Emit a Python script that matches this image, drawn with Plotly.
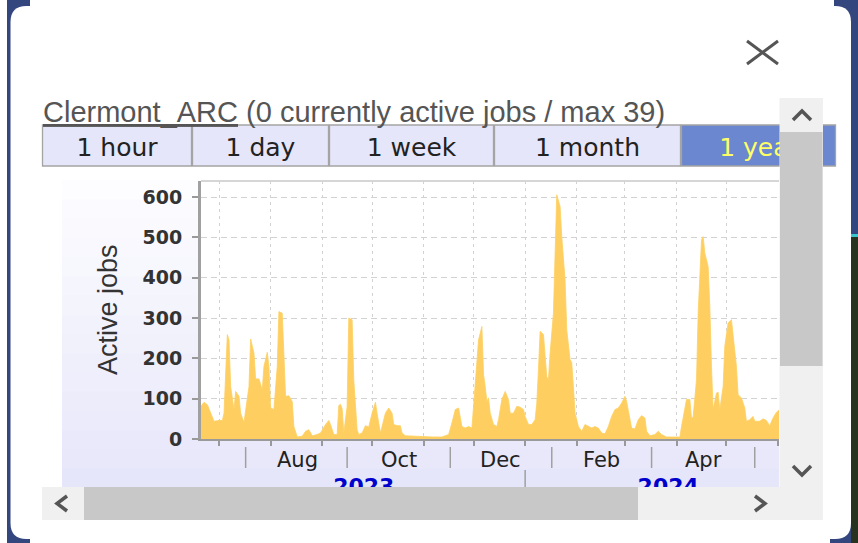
import plotly.graph_objects as go

W, H = 858, 543

# ---------------- data ----------------
dates = [
    "2023-06-20", "2023-06-22", "2023-06-24", "2023-06-26", "2023-06-28", "2023-07-01", "2023-07-03",
    "2023-07-04", "2023-07-05", "2023-07-06", "2023-07-07", "2023-07-08", "2023-07-10", "2023-07-11",
    "2023-07-13", "2023-07-14", "2023-07-16", "2023-07-17", "2023-07-19", "2023-07-20", "2023-07-22",
    "2023-07-23", "2023-07-25", "2023-07-27", "2023-07-28", "2023-07-30", "2023-07-31",
    "2023-08-01", "2023-08-03", "2023-08-05", "2023-08-06", "2023-08-08", "2023-08-09", "2023-08-10",
    "2023-08-12", "2023-08-14", "2023-08-15", "2023-08-17", "2023-08-20", "2023-08-22", "2023-08-24",
    "2023-08-26", "2023-08-29", "2023-08-31",
    "2023-09-03", "2023-09-05", "2023-09-06", "2023-09-08", "2023-09-10", "2023-09-11", "2023-09-12",
    "2023-09-13", "2023-09-14", "2023-09-16", "2023-09-17", "2023-09-19", "2023-09-20", "2023-09-22",
    "2023-09-23", "2023-09-25", "2023-09-27", "2023-09-29",
    "2023-10-01", "2023-10-03", "2023-10-04", "2023-10-06", "2023-10-07", "2023-10-09", "2023-10-11",
    "2023-10-13", "2023-10-14", "2023-10-16", "2023-10-18", "2023-10-19", "2023-10-21", "2023-10-25",
    "2023-10-31",
    "2023-11-06", "2023-11-12", "2023-11-16", "2023-11-18", "2023-11-20", "2023-11-22", "2023-11-23",
    "2023-11-24", "2023-11-26", "2023-11-28", "2023-11-30",
    "2023-12-02", "2023-12-04", "2023-12-06", "2023-12-07", "2023-12-08", "2023-12-09", "2023-12-10",
    "2023-12-11", "2023-12-13", "2023-12-15", "2023-12-16", "2023-12-18", "2023-12-20", "2023-12-22",
    "2023-12-23", "2023-12-25", "2023-12-27", "2023-12-29", "2023-12-31",
    "2024-01-01", "2024-01-03", "2024-01-05", "2024-01-07", "2024-01-08", "2024-01-09", "2024-01-10",
    "2024-01-12", "2024-01-13", "2024-01-14", "2024-01-15", "2024-01-16", "2024-01-18", "2024-01-19",
    "2024-01-20", "2024-01-22", "2024-01-23", "2024-01-25", "2024-01-26", "2024-01-28", "2024-01-29",
    "2024-01-30", "2024-01-31",
    "2024-02-02", "2024-02-04", "2024-02-06", "2024-02-08", "2024-02-10", "2024-02-12", "2024-02-14",
    "2024-02-16", "2024-02-18", "2024-02-20", "2024-02-22", "2024-02-24", "2024-02-26", "2024-02-28",
    "2024-03-01", "2024-03-02", "2024-03-04", "2024-03-05", "2024-03-07", "2024-03-09", "2024-03-11",
    "2024-03-13", "2024-03-14", "2024-03-16", "2024-03-19", "2024-03-21", "2024-03-23", "2024-03-26",
    "2024-03-30",
    "2024-04-03", "2024-04-04", "2024-04-06", "2024-04-07", "2024-04-09", "2024-04-10", "2024-04-11",
    "2024-04-13", "2024-04-14", "2024-04-16", "2024-04-17", "2024-04-18", "2024-04-20", "2024-04-21",
    "2024-04-22", "2024-04-23", "2024-04-25", "2024-04-26", "2024-04-27", "2024-04-29", "2024-04-30",
    "2024-05-02", "2024-05-04", "2024-05-05", "2024-05-07", "2024-05-08", "2024-05-10", "2024-05-12",
    "2024-05-13", "2024-05-15", "2024-05-17", "2024-05-18", "2024-05-21", "2024-05-23", "2024-05-25",
    "2024-05-27", "2024-05-29", "2024-05-31", "2024-06-02",
]

active_jobs = [
    81, 91, 85, 64, 44, 46, 46, 64, 180, 259, 246, 130, 73, 118, 106, 64, 41, 73, 130, 248, 213,
    149, 149, 122, 180, 215, 180,
    77, 73, 180, 316, 312, 180, 106, 107, 93, 31, 5, 7, 19, 23, 8, 11, 15,
    36, 46, 36, 11, 11, 83, 86, 75, 15, 81, 300, 296, 147, 23, 11, 15, 33, 30,
    64, 91, 64, 15, 31, 64, 77, 64, 36, 33, 33, 15, 8, 7, 7,
    5, 5, 11, 40, 73, 77, 52, 31, 27, 31, 27,
    130, 246, 279, 160, 130, 93, 102, 64, 36, 31, 48, 98, 118, 98, 64, 64, 81, 79, 73,
    56, 36, 36, 48, 89, 172, 267, 259, 213, 155, 147, 213, 312, 478, 606, 577, 502, 395, 271, 197,
    190, 130, 64,
    31, 19, 36, 31, 27, 31, 27, 15, 13, 31, 56, 73, 77, 89,
    106, 93, 50, 27, 25, 48, 58, 52, 19, 8, 11, 19, 11, 5, 5,
    5, 31, 81, 98, 98, 50, 56, 147, 312, 494, 502, 461, 428, 329, 180, 73, 114, 116, 73, 130, 230,
    288, 296, 255, 180, 110, 102, 77, 44, 48, 56, 44, 44, 50, 46, 33, 52, 66, 73,
]

x_range = ["2023-06-20 04:00", "2024-06-01 14:00"]
y_range = [0, 640]
y_ticks = [0, 100, 200, 300, 400, 500, 600]
month_labels = ["Aug", "Oct", "Dec", "Feb", "Apr"]
month_label_dates = ["2023-08-17", "2023-10-17", "2023-12-17", "2024-02-16", "2024-04-17"]
separator_dates = ["2023-07-17", "2023-09-16", "2023-11-17", "2024-01-17", "2024-03-17", "2024-05-18"]
year_labels = ["2023", "2024"]
year_label_dates = ["2023-09-26", "2024-03-27"]
year_boundary = "2024-01-01"
title_link = "Clermont_ARC"
title_rest = " (0 currently active jobs / max 39)"
y_title = "Active jobs"
buttons = ["1 hour", "1 day", "1 week", "1 month", "1 year"]
selected_button = "1 year"

# ---------------- helpers (pixel -> paper) ----------------
def X(x):
    return x / W


def Y(y):
    return 1 - y / H


shapes = []


def rect(x0, y0, x1, y1, fill, line=None, lw=0, layer="below"):
    shapes.append(dict(type="rect", xref="paper", yref="paper",
                       x0=X(x0), x1=X(x1), y0=Y(y1), y1=Y(y0),
                       fillcolor=fill, line=dict(color=line or fill, width=lw), layer=layer))


def seg(x0, y0, x1, y1, color, w, layer="below"):
    shapes.append(dict(type="line", xref="paper", yref="paper",
                       x0=X(x0), x1=X(x1), y0=Y(y0), y1=Y(y1),
                       line=dict(color=color, width=w), layer=layer))


def polyline(points, color, w, layer="above"):
    d = "M " + " L ".join(f"{X(a):.5f},{Y(b):.5f}" for a, b in points)
    shapes.append(dict(type="path", xref="paper", yref="paper", path=d,
                       line=dict(color=color, width=w), layer=layer))


def rounded(x0, y0, x1, y1, r, fill, layer="below"):
    p = (f"M {X(x0 + r)},{Y(y0)} L {X(x1 - r)},{Y(y0)} Q {X(x1)},{Y(y0)} {X(x1)},{Y(y0 + r)} "
         f"L {X(x1)},{Y(y1 - r)} Q {X(x1)},{Y(y1)} {X(x1 - r)},{Y(y1)} "
         f"L {X(x0 + r)},{Y(y1)} Q {X(x0)},{Y(y1)} {X(x0)},{Y(y1 - r)} "
         f"L {X(x0)},{Y(y0 + r)} Q {X(x0)},{Y(y0)} {X(x0 + r)},{Y(y0)} Z")
    shapes.append(dict(type="path", xref="paper", yref="paper", path=p,
                       fillcolor=fill, line=dict(width=0), layer=layer))


# ---------------- page / popup ----------------
rect(7, 0, 858, 543, "#33467d")
rect(851, 237, 858, 543, "#28331f")
rect(851, 234, 858, 237, "#3cc4cf")
rounded(10.5, 6, 851, 539, 16, "#ffffff")
rect(30, 0, 834, 6, "#ffffff")
rect(30, 539, 830, 543, "#ffffff")

# chart panel with soft vertical gradient
PX0, PX1, PY0, PY1 = 62, 779, 180, 488
n = 16
c0, c1 = (253, 253, 255), (230, 230, 250)
for i in range(n):
    t = i / (n - 1)
    col = "rgb(%d,%d,%d)" % tuple(round(c0[k] + (c1[k] - c0[k]) * t) for k in range(3))
    ya = PY0 + (PY1 - PY0) * i / n
    yb = PY0 + (PY1 - PY0) * (i + 1) / n + 0.6
    rect(PX0, ya, PX1, yb, col)

# plot area
AX0, AX1, AY0, AY1 = 201, 779, 181, 439
rect(AX0, AY0, AX1, AY1, "#ffffff")
seg(AX0, AY0, AX1, AY0, "#c8c8c8", 1.5)

# buttons
btn_edges = [42, 192, 329, 494, 681, 836]
btn_centers = [117, 260.5, 411.5, 587.5, 759]
for i, b in enumerate(buttons):
    fill = "#6b87cf" if b == selected_button else "#e6e6fa"
    rect(btn_edges[i] + 0.5, 125, btn_edges[i + 1] - 0.5, 166, fill, "#a4a4a4", 1.3)

# ---------------- figure ----------------
fig = go.Figure()
fig.add_trace(go.Scatter(
    x=dates, y=active_jobs, mode="lines", fill="tozeroy",
    line=dict(color="#fecf60", width=0.8), fillcolor="#fecf60",
    hoverinfo="skip", showlegend=False))
fig.add_trace(go.Scatter(x=[None], y=[None], xaxis="x2", yaxis="y", showlegend=False, hoverinfo="skip"))
fig.add_trace(go.Scatter(x=[None], y=[None], xaxis="x3", yaxis="y3", showlegend=False, hoverinfo="skip"))

# month label separators and year boundary (through the x scale)
for d in separator_dates:
    shapes.append(dict(type="line", xref="x", yref="paper", x0=d, x1=d, y0=Y(468), y1=Y(447),
                       line=dict(color="#a0a0a0", width=1.5), layer="below"))
shapes.append(dict(type="line", xref="x", yref="paper", x0=year_boundary, x1=year_boundary,
                   y0=Y(488), y1=Y(470), line=dict(color="#a0a0a0", width=1.5), layer="below"))

# ---------------- scrollbars, close button (above everything) ----------------
rect(779.5, 98, 823, 487, "#f0f0f0", layer="above")
rect(780, 132, 822.5, 366, "#c8c8c8", layer="above")
rect(42, 487, 823, 520, "#f0f0f0", layer="above")
rect(84, 487, 638, 520, "#c8c8c8", layer="above")
polyline([(793, 120), (802, 111), (811, 120)], "#555555", 3.5)
polyline([(793, 466), (802, 475), (811, 466)], "#555555", 3.5)
polyline([(67, 496), (57, 503.5), (67, 511)], "#555555", 3.5)
polyline([(755, 496), (765, 503.5), (755, 511)], "#555555", 3.5)
seg(747, 41, 778, 64, "#555555", 3, layer="above")
seg(778, 41, 747, 64, "#555555", 3, layer="above")

annotations = [
    dict(text=f"<u>{title_link}</u>{title_rest}", x=X(41), y=Y(112), xref="paper", yref="paper",
         xanchor="left", yanchor="middle", showarrow=False,
         font=dict(family="Liberation Sans", size=29, color="#555555")),
    dict(text=y_title, x=X(108), y=Y(310), xref="paper", yref="paper", textangle=-90,
         xanchor="center", yanchor="middle", showarrow=False,
         font=dict(family="Liberation Sans", size=27, color="#333333")),
]
for lab, d in zip(month_labels, month_label_dates):
    annotations.append(dict(text=lab, x=d, y=Y(459.5), xref="x", yref="paper",
                            xanchor="center", yanchor="middle", showarrow=False,
                            font=dict(family="DejaVu Sans", size=21, color="#222222")))

btn_text = [f"<span style='color:#ffff66'>{b}</span>" if b == selected_button else b for b in buttons]

fig.update_layout(
    width=W, height=H, autosize=False,
    margin=dict(l=0, r=0, t=0, b=0, pad=0, autoexpand=False),
    paper_bgcolor="#ffffff", plot_bgcolor="rgba(0,0,0,0)",
    showlegend=False, hovermode=False,
    shapes=shapes, annotations=annotations,
    xaxis=dict(domain=[X(AX0), X(AX1)], type="date", range=x_range, anchor="y", automargin=False,
               tick0="2023-07-01", dtick="M1", showticklabels=False,
               ticks="outside", ticklen=5, tickcolor="#999999", tickwidth=1.5,
               showgrid=True, gridcolor="#d2d2d2", gridwidth=1, griddash="3px,4px",
               showline=True, linecolor="#9a9a9a", linewidth=2, zeroline=False, fixedrange=True),
    yaxis=dict(domain=[Y(AY1), Y(AY0)], range=y_range, anchor="x", automargin=False,
               tickvals=y_ticks, ticks="outside", ticklen=6, tickcolor="#999999", tickwidth=1.5,
               ticklabelstandoff=6,
               tickfont=dict(family="DejaVu Sans", size=19, color="#333333", weight="bold"),
               showgrid=True, gridcolor="#d2d2d2", gridwidth=1, griddash="6px,4px",
               showline=True, linecolor="#a0a0a0", linewidth=3, zeroline=False, fixedrange=True),
    xaxis2=dict(overlaying="x", anchor="free", position=Y(471), side="bottom", type="date",
                automargin=False, range=x_range, tickvals=year_label_dates, ticktext=year_labels,
                tickfont=dict(family="DejaVu Sans", size=22, color="#0000cc", weight="bold"),
                ticks="", showgrid=False, showline=False, zeroline=False, fixedrange=True),
    xaxis3=dict(domain=[0, 1], anchor="y3", range=[0, W], tickvals=btn_centers, ticktext=btn_text,
                automargin=False, tickfont=dict(family="DejaVu Sans", size=25, color="#222222"),
                ticks="", showgrid=False, showline=False, zeroline=False, fixedrange=True),
    yaxis3=dict(domain=[Y(130), Y(128)], anchor="x3", range=[0, 1], visible=False,
                automargin=False, fixedrange=True),
)

post = "document.body.style.margin='0px';document.body.style.overflow='hidden';"
fig.write_html("out.html", config={"displayModeBar": False}, post_script=post)
